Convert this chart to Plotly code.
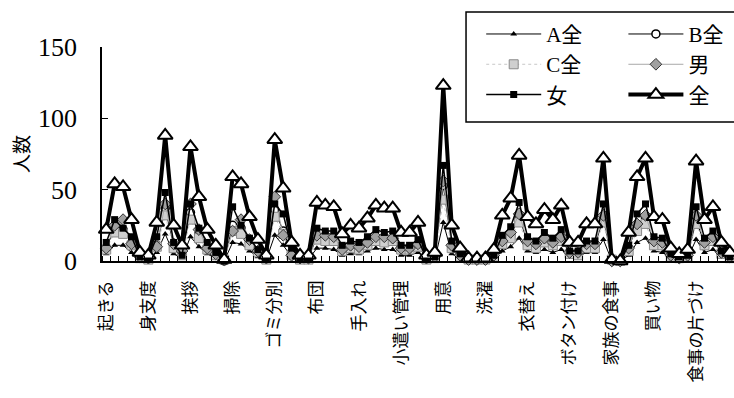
import plotly.graph_objects as go

n_items = 75
x_idx = list(range(n_items))
tick_pos = [0, 5, 10, 15, 20, 25, 30, 35, 40, 45, 50, 55, 60, 65, 70]
tick_labels = ["起きる", "身支度", "挨拶", "掃除", "ゴミ分別", "布団", "手入れ", "小遣い管理",
               "用意", "洗濯", "衣替え", "ボタン付け", "家族の食事", "買い物", "食事の片づけ"]

all_total = [22, 54, 52, 29, 6, 4, 27, 88, 25, 11,
             80, 45, 22, 11, 1, 59, 54, 31, 15, 4,
             85, 51, 13, 4, 4, 41, 39, 38, 19, 25,
             23, 30, 39, 37, 37, 20, 20, 27, 4, 6,
             123, 25, 9, 2, 2, 2, 8, 32, 44, 74,
             31, 26, 36, 29, 39, 13, 13, 26, 26, 72,
             1, 0, 20, 59, 72, 31, 29, 9, 5, 8,
             70, 29, 38, 13, 6]
female = [13, 29, 23, 17, 3, 2, 17, 48, 13, 4,
          40, 23, 13, 6, 0, 38, 25, 16, 8, 2,
          40, 33, 9, 2, 2, 23, 21, 21, 11, 14,
          13, 17, 22, 20, 21, 11, 11, 15, 2, 3,
          67, 14, 5, 1, 1, 1, 4, 18, 24, 41,
          17, 14, 20, 16, 22, 7, 7, 14, 14, 40,
          1, 0, 11, 33, 40, 17, 16, 5, 3, 4,
          38, 16, 21, 7, 3]
male = [9, 25, 29, 12, 3, 2, 10, 40, 12, 7,
        40, 22, 9, 5, 1, 21, 29, 15, 7, 2,
        45, 18, 4, 2, 2, 18, 18, 17, 8, 11,
        10, 13, 17, 17, 16, 9, 9, 12, 2, 3,
        56, 11, 4, 1, 1, 1, 4, 14, 20, 33,
        14, 12, 16, 13, 17, 6, 6, 12, 12, 32,
        0, 0, 9, 26, 32, 14, 13, 4, 2, 4,
        32, 13, 17, 6, 3]
a_all = [5, 11, 11, 6, 1, 1, 6, 19, 5, 2,
         17, 10, 5, 2, 0, 13, 12, 7, 3, 1,
         18, 11, 3, 1, 1, 9, 9, 8, 4, 5,
         5, 7, 9, 8, 8, 4, 4, 6, 1, 1,
         27, 5, 2, 0, 0, 0, 2, 7, 10, 16,
         7, 6, 8, 6, 8, 3, 3, 6, 6, 15,
         0, 0, 4, 13, 16, 7, 6, 2, 1, 2,
         15, 6, 8, 3, 1]
b_all = [9, 23, 22, 12, 3, 2, 11, 37, 11, 5,
         34, 19, 9, 5, 0, 25, 23, 13, 6, 2,
         36, 21, 6, 2, 2, 17, 16, 16, 8, 11,
         10, 12, 16, 16, 15, 8, 8, 11, 2, 3,
         53, 11, 4, 1, 1, 1, 3, 13, 18, 31,
         13, 11, 15, 12, 17, 5, 6, 11, 11, 30,
         0, 0, 9, 25, 30, 13, 12, 4, 2, 3,
         29, 12, 16, 5, 3]
c_all = [8, 20, 19, 11, 2, 1, 10, 32, 9, 4,
         29, 16, 8, 4, 1, 21, 19, 11, 6, 1,
         31, 19, 4, 1, 1, 15, 14, 14, 7, 9,
         8, 11, 14, 13, 14, 8, 8, 10, 1, 2,
         43, 9, 3, 1, 1, 1, 3, 12, 16, 27,
         11, 9, 13, 11, 14, 5, 4, 9, 9, 27,
         1, 0, 7, 21, 26, 11, 11, 3, 2, 3,
         26, 11, 14, 5, 2]

LAT = "Liberation Serif, Noto Sans CJK JP"
CJK = "Noto Sans CJK JP"

fig = go.Figure()

def add(name, y, line, marker, legend):
    fig.add_trace(go.Scatter(
        x=x_idx, y=y, name=name, mode="lines+markers",
        line=line, marker=marker, legend=legend, legendgroup=name,
        cliponaxis=False))

add("A全", a_all, dict(color="black", width=1),
    dict(symbol="triangle-up", size=6, color="black"), "legend")
add("B全", b_all, dict(color="black", width=1),
    dict(symbol="circle", size=8, color="white", line=dict(color="black", width=1.5)), "legend2")
add("C全", c_all, dict(color="#c8c8c8", width=1, dash="dot"),
    dict(symbol="square", size=9, color="#cfcfcf", line=dict(color="#8a8a8a", width=1)), "legend")
add("男", male, dict(color="#a8a8a8", width=1),
    dict(symbol="diamond", size=9, color="#a0a0a0", line=dict(color="#333333", width=1)), "legend2")
add("女", female, dict(color="black", width=1.5),
    dict(symbol="square", size=7, color="black"), "legend")
add("全", all_total, dict(color="black", width=4),
    dict(symbol="triangle-up", size=13, color="white", line=dict(color="black", width=2)), "legend2")

leg_common = dict(font=dict(family=LAT, size=21, color="black"), bgcolor="rgba(0,0,0,0)",
                  itemwidth=55, tracegroupgap=0, yanchor="top", xanchor="left",
                  orientation="v", itemclick=False)

fig.update_layout(
    width=734, height=398,
    margin=dict(l=102, r=0, t=47, b=137),
    paper_bgcolor="white", plot_bgcolor="white",
    showlegend=True,
    legend=dict(x=0.60, y=1.155, **leg_common),
    legend2=dict(x=0.825, y=1.155, **leg_common),
    xaxis=dict(range=[-0.5, n_items - 0.5], tickmode="array", tickvals=tick_pos,
               ticktext=tick_labels, tickangle=-90, ticks="",
               tickfont=dict(family=CJK, size=17, color="black"),
               showline=True, linecolor="black", linewidth=1.5, showgrid=False,
               zeroline=False, ticklabelstandoff=11,
               minor=dict(tick0=-0.5, dtick=1, ticks="inside", ticklen=5,
                          tickcolor="black", tickwidth=1, showgrid=False)),
    yaxis=dict(range=[0, 150], tickvals=[0, 50, 100, 150], ticks="inside", ticklen=6,
               tickcolor="black", showline=True, linecolor="black", linewidth=1.5,
               showgrid=False, zeroline=False, ticklabelstandoff=18,
               tickfont=dict(family=LAT, size=26, color="black"),
               title=dict(text="人数", font=dict(family=CJK, size=19, color="black"), standoff=3)),
    shapes=[dict(type="rect", xref="paper", yref="paper", x0=0.576, x1=1.02,
                 y0=0.6495, y1=1.1636, line=dict(color="black", width=1.5))],
)

fig.write_html("out.html")
